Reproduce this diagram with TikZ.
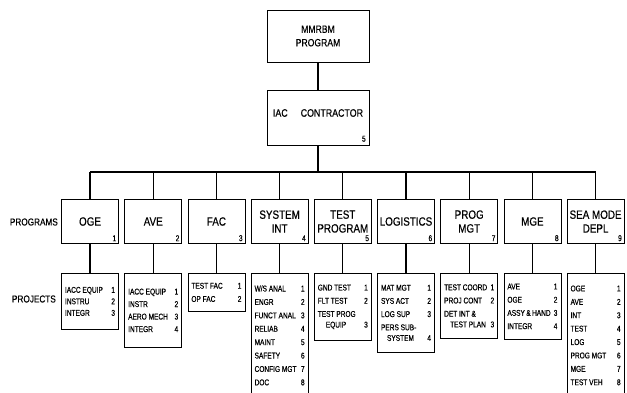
\documentclass[tikz,border=0pt]{standalone}
\usepackage{fontspec}
\setmainfont{Liberation Sans}[FakeStretch=0.82,FakeBold=0.5]
\newfontfamily\projfont{Liberation Sans}[FakeStretch=0.78,FakeBold=0.5]
\newcommand\prow[2]{\makebox[50pt][s]{#1\hfill#2}}
\begin{document}
\begin{tikzpicture}[x=1pt,y=-1pt,
  box/.style={draw,line width=0.8pt,inner sep=0pt},
  prog/.style={box,minimum width=57pt,minimum height=44pt,align=center,font=\fontsize{12}{13.8}\selectfont},
  proj/.style={box,minimum width=57pt,anchor=north,align=left,font=\projfont\fontsize{8.4}{13.2}\selectfont},
  num/.style={inner sep=2.5pt,anchor=south east,font=\projfont\fontsize{8.5}{9}\selectfont},
  lbl/.style={font=\fontsize{10}{11}\selectfont,inner sep=0pt,anchor=east},
  conn/.style={line width=1.2pt}]
\useasboundingbox (0,0) rectangle (627,393);
% top boxes
\node[box,minimum width=102pt,minimum height=52pt,align=center,font=\fontsize{10.5}{13.5}\selectfont] (top) at (318,36) {MMRBM\\PROGRAM};
\node[box,minimum width=102pt,minimum height=55pt] (iac) at (318,117.5) {};
\node[font=\fontsize{10.8}{12}\selectfont,inner sep=0pt] (iact) at (318,113) {IAC\hspace{13pt}CONTRACTOR};
\node[num,inner sep=3.5pt] (iacn) at (iac.south east) {5};
% labels
\node[lbl] (lprog) at (58,222) {PROGRAMS};
\node[lbl] (lproj) at (56,299) {PROJECTS};
% program boxes
\node[prog] (p1) at (90,221.5) {OGE};
\node[prog] (p2) at (153.2,221.5) {AVE};
\node[prog] (p3) at (216.4,221.5) {FAC};
\node[prog] (p4) at (279.6,221.5) {SYSTEM\\INT};
\node[prog] (p5) at (342.8,221.5) {TEST\\PROGRAM};
\node[prog] (p6) at (406,221.5) {LOGISTICS};
\node[prog] (p7) at (469.2,221.5) {PROG\\MGT};
\node[prog] (p8) at (532.4,221.5) {MGE};
\node[prog] (p9) at (595.6,221.5) {SEA MODE\\DEPL};
\foreach \i in {1,...,9} {\node[num] (n\i) at (p\i.south east) {\i};}
% project boxes
\node[proj,minimum height=56pt,font=\projfont\fontsize{8.4}{11.5}\selectfont] (q1) at (90,273) {\prow{IACC EQUIP}{1}\\\prow{INSTRU}{2}\\\prow{INTEGR}{3}};
\node[proj,minimum height=74pt,font=\projfont\fontsize{8.4}{12.5}\selectfont] (q2) at (153.2,273) {\prow{IACC EQUIP}{1}\\\prow{INSTR}{2}\\\prow{AERO MECH}{3}\\\prow{INTEGR}{4}};
\node[proj,minimum height=38pt] (q3) at (216.4,273) {\prow{TEST FAC}{1}\\\prow{OP FAC}{2}};
\node[proj,minimum height=124pt,font=\projfont\fontsize{8.4}{13.4}\selectfont] (q4) at (279.6,273) {\prow{W/S ANAL}{1}\\\prow{ENGR}{2}\\\prow{FUNCT ANAL}{3}\\\prow{RELIAB}{4}\\\prow{MAINT}{5}\\\prow{SAFETY}{6}\\\prow{CONFIG MGT}{7}\\\prow{DOC}{8}};
\node[proj,minimum height=67pt] (q5) at (342.8,273) {\prow{GND TEST}{1}\\\prow{FLT TEST}{2}\\\prow{TEST PROG}{}\\[-2.5pt]\prow{\hspace*{8pt}EQUIP}{3}};
\node[proj,minimum height=79pt] (q6) at (406,273) {\prow{MAT MGT}{1}\\\prow{SYS ACT}{2}\\\prow{LOG SUP}{3}\\\prow{PERS SUB-}{}\\[-2.5pt]\prow{\hspace*{6pt}SYSTEM}{4}};
\node[proj,minimum height=65pt] (q7) at (469.2,273) {\prow{TEST COORD}{1}\\\prow{PROJ CONT}{2}\\\prow{DET INT \&}{}\\[-2.5pt]\prow{\hspace*{6pt}TEST PLAN}{3}};
\node[proj,minimum height=66pt] (q8) at (532.4,273) {\prow{AVE}{1}\\\prow{OGE}{2}\\\prow{ASSY\,\&\,HAND}{3}\\\prow{INTEGR}{4}};
\node[proj,minimum height=124pt,font=\projfont\fontsize{8.4}{13.4}\selectfont] (q9) at (595.6,273) {\prow{OGE}{1}\\\prow{AVE}{2}\\\prow{INT}{3}\\\prow{TEST}{4}\\\prow{LOG}{5}\\\prow{PROG MGT}{6}\\\prow{MGE}{7}\\\prow{TEST VEH}{8}};
% connectors
\coordinate (bus) at (318,172);
\draw[conn] (top.south) -- (iac.north);
\draw[conn] (iac.south) -- (bus);
\draw[conn] (p1.north |- bus) -- (p9.north |- bus);
\foreach \i in {1,...,9} {
  \draw[conn] (p\i.north |- bus) -- (p\i.north);
  \draw[conn] (p\i.south) -- (q\i.north);
}
\end{tikzpicture}
\end{document}
